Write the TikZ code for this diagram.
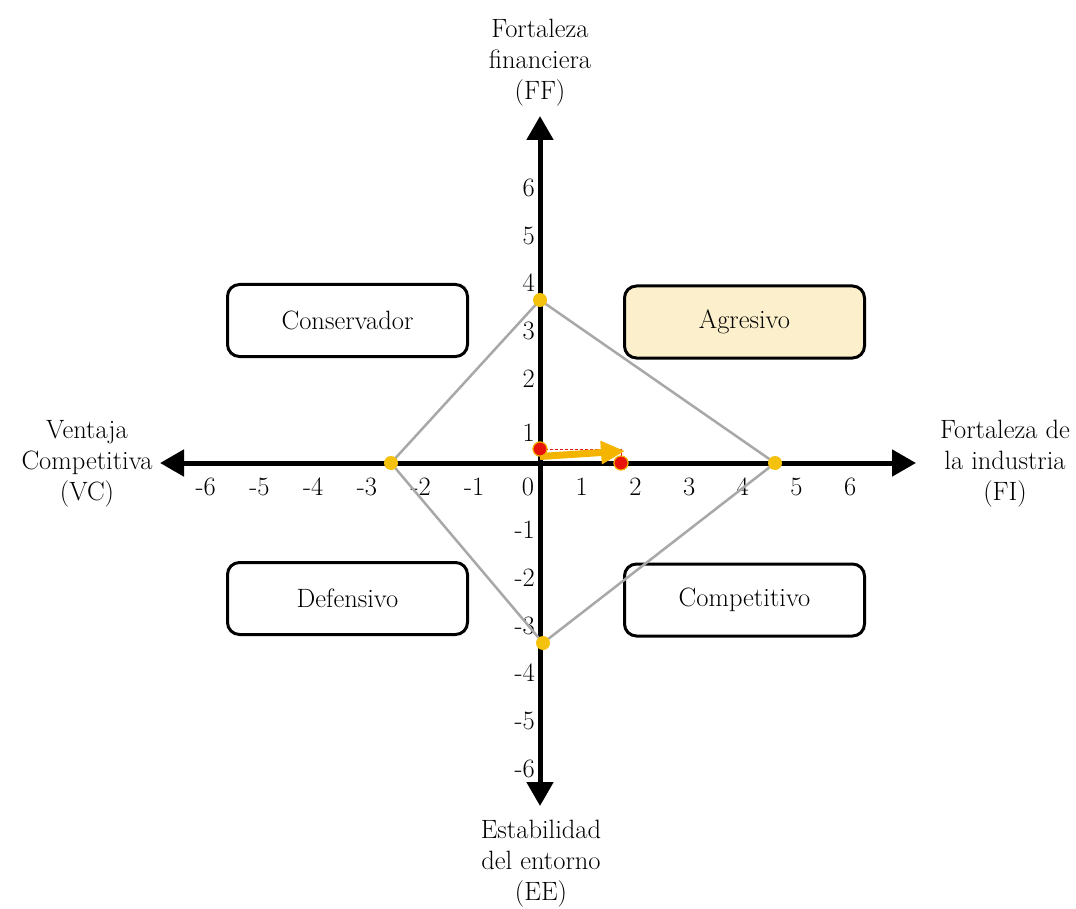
\documentclass[tikz,border=0pt]{standalone}
\usepackage{fontspec}
\usetikzlibrary{arrows.meta}
\definecolor{dotyellow}{HTML}{F4C20D}
\definecolor{dotred}{HTML}{E8140C}
\definecolor{arroworange}{HTML}{F5B400}
\definecolor{boxfill}{HTML}{FCF0CC}
\definecolor{diamondgray}{HTML}{A8A8A8}
\begin{document}
\begin{tikzpicture}[x=1pt,y=-1pt,
  txt/.style={font=\fontsize{26.5}{31}\selectfont,inner sep=0pt},
  axisline/.style={line width=5pt,{Triangle[length=24pt,width=26pt]}-{Triangle[length=24pt,width=26pt]}},
  quadrant/.style={draw,line width=3pt,rounded corners=12pt,minimum width=240pt,minimum height=72pt,txt},
  ydot/.style={circle,fill=dotyellow,inner sep=0pt,minimum size=14pt},
  rdot/.style={circle,fill=dotred,draw=arroworange,line width=1pt,inner sep=0pt,minimum size=14pt},
  tick/.style={txt}
]
\useasboundingbox (0,0) rectangle (1076,909);
\fill[white] (0,0) rectangle (1076,909);

% axes
\coordinate (xl) at (160,463);
\coordinate (xr) at (916,463);
\coordinate (yt) at (540,116);
\coordinate (yb) at (540,806);
\draw[axisline] (xl) -- (xr);
\draw[axisline] (yt) -- (yb);

% tick labels on the horizontal axis
\foreach \k in {-6,...,6} {
  \node[tick] (tx\k) at ({528+53.7*\k},487) {\k};
}
% tick labels on the vertical axis
\foreach \k/\yy in {6/188,5/236,4/283,3/331,2/379,1/433,-1/530,-2/578,-3/626,-4/673,-5/721,-6/769} {
  \node[tick,anchor=east] (ty\k) at (535,\yy) {\k};
}

% quadrant boxes
\node[quadrant] (cons) at (347.5,320.5) {Conservador};
\node[quadrant,fill=boxfill] (agre) at (744.5,322) {Agresivo};
\node[quadrant] (defe) at (347.5,598.5) {Defensivo};
\node[quadrant] (comp) at (744.5,600) {Competitivo};

% axis titles
\node[txt,align=center] (lFF) at (540,63) {Fortaleza\\financiera\\(FF)};
\node[txt,align=center] (lVC) at (87,464) {Ventaja\\Competitiva\\(VC)};
\node[txt,align=center] (lFI) at (1005,464) {Fortaleza de\\la industria\\(FI)};
\node[txt,align=center] (lEE) at (541,864) {Estabilidad\\del entorno\\(EE)};

% strategic position diamond
\coordinate (ff) at (540,300);
\coordinate (fi) at (775,463);
\coordinate (ee) at (543,643);
\coordinate (vc) at (391,463);
\draw[diamondgray,line width=2.5pt] (ff) -- (fi) -- (ee) -- (vc) -- cycle;
\foreach \p in {ff,fi,ee,vc} {
  \node[ydot] (dot-\p) at (\p) {};
}

% resulting vector
\node[rdot] (r1) at (540,449) {};
\node[rdot] (r2) at (621,463) {};
\coordinate (corner) at (621,449);
\draw[dotred,densely dashed,line width=1pt] (r1.center) -- (corner) -- (r2.north);
\draw[arroworange,line width=7pt,-{Triangle[length=24pt,width=22pt]}] (r1.south) -- (625,451);
\node[rdot] at (r1) {};
\node[rdot] at (r2) {};
\end{tikzpicture}
\end{document}
